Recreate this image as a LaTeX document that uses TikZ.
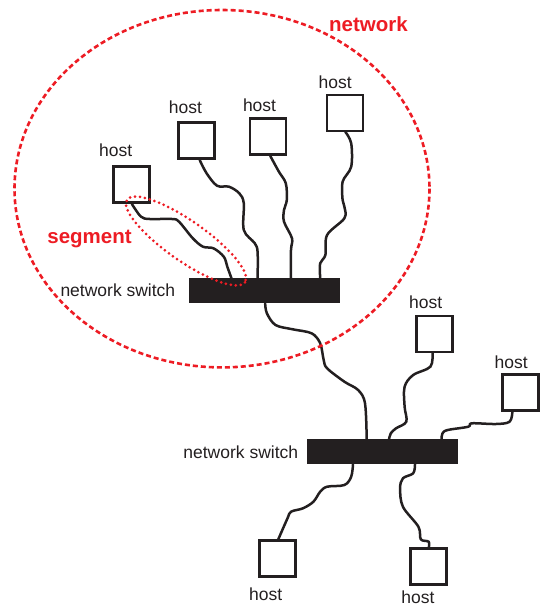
\documentclass[tikz,border=0pt]{standalone}
\usepackage{fontspec}
\setmainfont{Liberation Sans}
\definecolor{ink}{RGB}{35,31,32}
\definecolor{netred}{RGB}{237,28,36}
\tikzset{
  hostbox/.style={draw=ink, fill=white, line width=2.8pt, minimum size=36pt, inner sep=0pt},
  switchbar/.style={fill=ink, draw=none, minimum width=151pt, minimum height=25pt, inner sep=0pt},
  lbl/.style={text=ink, inner sep=0pt, anchor=base west, font=\fontsize{17.5}{20}\selectfont},
  redlbl/.style={text=netred, inner sep=0pt, anchor=base west, font=\fontsize{20.5}{24}\selectfont\bfseries},
  cable/.style={draw=ink, line width=2.5pt, line join=round, line cap=round},
  netline/.style={draw=netred, line width=2.6pt, dash pattern=on 5pt off 3pt},
  segline/.style={draw=netred, line width=3pt, line cap=round, dash pattern=on 0pt off 5pt}
}
\begin{document}
\begin{tikzpicture}[x=1pt, y=-1pt]
\useasboundingbox (0,0) rectangle (540,606);

% switches
\node[switchbar] (s1) at (264.8,290.8) {};
\node[switchbar] (s2) at (382.3,451.7) {};

% cables, drawn under the host boxes
\draw[cable] plot[smooth, tension=0.55] coordinates {(131.9,204) (141,216.7) (149.8,219) (172,219) (179,221.7) (192.8,238.3) (203,246.7) (213.5,248.3) (223.8,256.7) (227.3,266.7) (s1.north -| 231.4,0)};
\draw[cable] plot[smooth, tension=0.55] coordinates {(199.7,160) (206.6,173.3) (217,185.7) (229,186.7) (239.3,193.3) (243.8,203.3) (243.8,230) (254.8,243.3) (257.6,252) (s1.north -| 257.6,0)};
\draw[cable] plot[smooth, tension=0.55] coordinates {(270.3,156) (278.9,171.7) (285.8,183.3) (286.8,200) (284,210) (284,221.7) (292,238.3) (291,250) (s1.north -| 291,0)};
\draw[cable] plot[smooth, tension=0.55] coordinates {(345.4,132) (351.2,143.3) (351.2,166.7) (342.6,181.7) (342.6,200) (344.4,206.7) (344.4,218.3) (327.1,235) (325.4,255) (320.2,263.3) (s1.north -| 320.2,0)};
\draw[cable] plot[smooth, tension=0.55] coordinates {(s1.south -| 265.2,0) (266.9,313.3) (275.5,325) (292.7,329.3) (311.6,333.3) (320.2,343.3) (323.7,360) (327.1,368.3) (344.4,381.7) (358.1,390) (365,403.3) (s2.north -| 366.7,0)};
\draw[cable] plot[smooth, tension=0.55] coordinates {(432.5,353) (430.4,366.7) (413.2,375) (404.6,386.7) (404.6,406.7) (406.3,421.7) (396,428.3) (390.8,433.3) (s2.north -| 389.1,0)};
\draw[cable] plot[smooth, tension=0.55] coordinates {(512.4,411.5) (509.6,421.7) (495.9,424) (471.8,423.3) (468.3,426.7) (447.7,430) (442.5,433.3) (s2.north -| 441.5,0)};
\draw[cable] plot[smooth, tension=0.55] coordinates {(s2.south -| 353,0) (351.2,476.7) (344.4,485) (327.1,486.7) (320.2,491.7) (313.4,501.7) (303,508.3) (291,511.7) (287.5,518.3) (278.2,539.5)};
\draw[cable] plot[smooth, tension=0.55] coordinates {(s2.south -| 415,0) (413.2,473.3) (402.9,478.3) (400.1,488.3) (402.9,506.7) (418.4,526.7) (420.8,539.3) (428.7,541.7) (428.7,548)};

% hosts
\node[hostbox] (hA) at (131.3,184.7) {};
\node[hostbox] (hB) at (196.2,140.3) {};
\node[hostbox] (hC) at (268.0,136.7) {};
\node[hostbox] (hD) at (345.0,113.0) {};
\node[hostbox] (hE) at (434.6,334.0) {};
\node[hostbox] (hF) at (520.3,392.5) {};
\node[hostbox] (hG) at (277.2,558.8) {};
\node[hostbox] (hH) at (428.7,566.8) {};

% labels
\node[lbl] (tA) at (99.0,156.7) {host};
\node[lbl] (tB) at (168.7,113.3) {host};
\node[lbl] (tC) at (242.8,111.7) {host};
\node[lbl] (tD) at (318.5,88.3) {host};
\node[lbl] (tE) at (409.0,308.3) {host};
\node[lbl] (tF) at (494.5,368.3) {host};
\node[lbl] (tG) at (249.0,600.0) {host};
\node[lbl] (tH) at (401.2,603.0) {host};
\node[lbl] (ts1) at (60.3,296.0) {network switch};
\node[lbl] (ts2) at (183.2,458.3) {network switch};
\node[redlbl] (tnet) at (328.9,31.7) {network};
\node[redlbl] (tseg) at (47.2,243.5) {segment};

% network and segment outlines
\draw[netline] (222,188.7) ellipse [x radius=207.5, y radius=178.7];
\draw[segline, rotate around={-35:(186,241)}] (186,241) ellipse [x radius=72, y radius=20];
\end{tikzpicture}
\end{document}
